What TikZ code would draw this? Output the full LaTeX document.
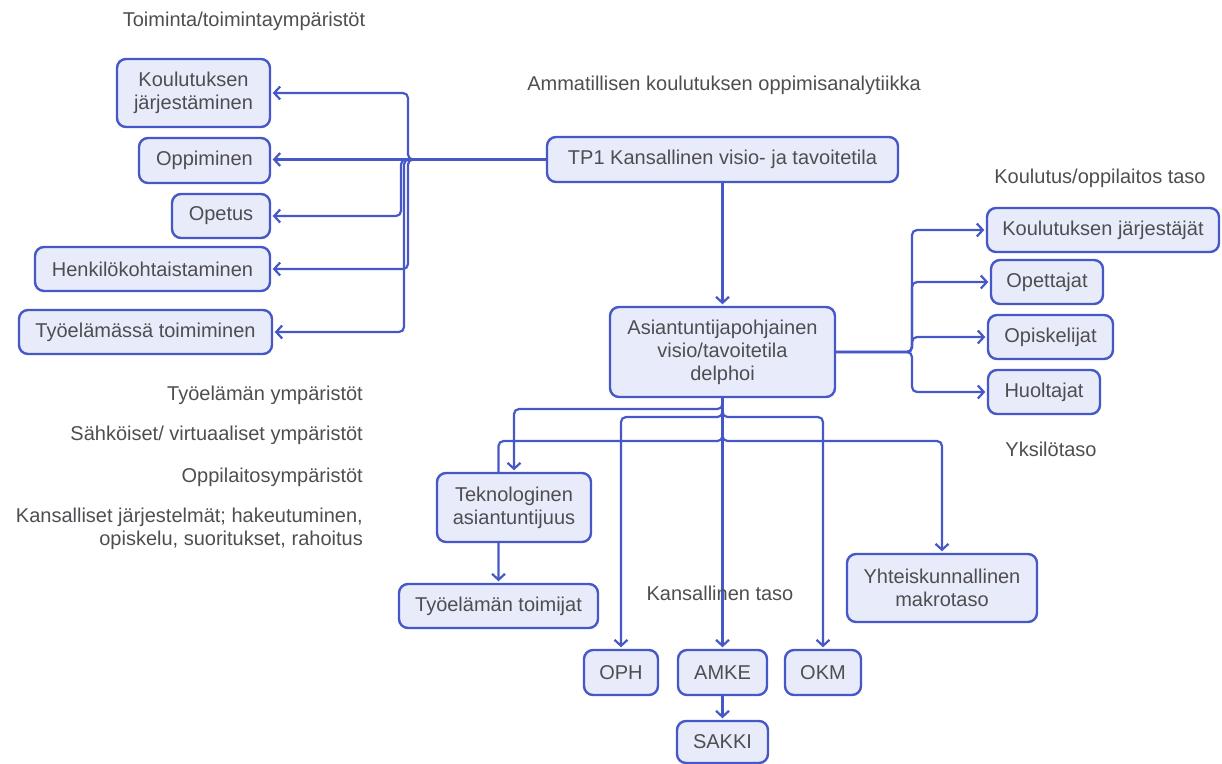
\documentclass[tikz,border=0pt]{standalone}
\usepackage{fontspec}
\setmainfont{Liberation Sans}
\usetikzlibrary{arrows.meta}
\pgfdeclarelayer{background}
\pgfsetlayers{background,main}
\definecolor{edgeblue}{RGB}{70,88,200}
\definecolor{boxfill}{RGB}{232,235,249}
\definecolor{txtgray}{RGB}{78,78,82}
\tikzset{
  lbl/.style={text=txtgray, font=\fontsize{20}{23}\selectfont, inner sep=0pt},
  box/.style={draw=edgeblue, fill=boxfill, line width=2.4pt, rounded corners=9pt,
    text=txtgray, font=\fontsize{20}{23}\selectfont, align=center, inner sep=0pt},
  conn/.style={draw=edgeblue, line width=2.2pt, rounded corners=5pt,
    -{Straight Barb[length=6pt,width=13pt]}, shorten >=1.5pt},
  plain/.style={draw=edgeblue, line width=2.2pt, rounded corners=5pt}
}
\begin{document}
\begin{tikzpicture}[x=1pt,y=-1pt]
\useasboundingbox (0,0) rectangle (1222,763);

% headings and side labels
\node[lbl] (hAct) at (244,21) {Toiminta/toimintaympäristöt};
\node[lbl] (hMain) at (724,85) {Ammatillisen koulutuksen oppimisanalytiikka};
\node[lbl] (hInst) at (1100,178) {Koulutus/oppilaitos taso};
\node[lbl] (hInd) at (1051,449) {Yksilötaso};
\node[lbl] (hNat) at (720,593) {Kansallinen taso};
\node[lbl, anchor=east] (eWork) at (363,395) {Työelämän ympäristöt};
\node[lbl, anchor=east] (eVirt) at (363,435) {Sähköiset/ virtuaaliset ympäristöt};
\node[lbl, anchor=east] (eSchool) at (363,477) {Oppilaitosympäristöt};
\node[lbl, anchor=east, align=right] (eNat) at (363,528.5)
  {Kansalliset järjestelmät; hakeutuminen,\\opiskelu, suoritukset, rahoitus};

% activity boxes (left)
\node[box, minimum width=153pt, minimum height=68pt] (kj) at (193.5,93) {Koulutuksen\\järjestäminen};
\node[box, minimum width=131pt, minimum height=45pt] (opp) at (204.5,160.5) {Oppiminen};
\node[box, minimum width=98pt, minimum height=44pt] (opetus) at (221,216) {Opetus};
\node[box, minimum width=235pt, minimum height=44pt] (henk) at (152.5,269) {Henkilökohtaistaminen};
\node[box, minimum width=253pt, minimum height=44pt] (tyo) at (145.5,332) {Työelämässä toimiminen};

% central boxes
\node[box, minimum width=351pt, minimum height=45pt] (tp1) at (722.5,159.5) {TP1 Kansallinen visio- ja tavoitetila};
\node[box, minimum width=225pt, minimum height=90pt] (delphoi) at (722.5,352) {Asiantuntijapohjainen\\visio/tavoitetila\\delphoi};

% institution / individual level (right)
\node[box, minimum width=232pt, minimum height=44pt] (kjat) at (1103,230) {Koulutuksen järjestäjät};
\node[box, minimum width=112pt, minimum height=44pt] (opettajat) at (1047,282) {Opettajat};
\node[box, minimum width=125pt, minimum height=44pt] (opisk) at (1050.5,337) {Opiskelijat};
\node[box, minimum width=112pt, minimum height=44pt] (huolt) at (1044,392) {Huoltajat};

% lower boxes
\node[box, minimum width=154pt, minimum height=69pt] (tek) at (514,507.5) {Teknologinen\\asiantuntijuus};
\node[box, minimum width=199pt, minimum height=44pt] (toimijat) at (498.5,606) {Työelämän toimijat};
\node[box, minimum width=190pt, minimum height=68pt] (yht) at (942,588) {Yhteiskunnallinen\\makrotaso};
\node[box, minimum width=74pt, minimum height=45pt] (oph) at (621,672.5) {OPH};
\node[box, minimum width=89pt, minimum height=45pt] (amke) at (722.5,672.5) {AMKE};
\node[box, minimum width=76pt, minimum height=45pt] (okm) at (823,672.5) {OKM};
\node[box, minimum width=91pt, minimum height=42pt] (sakki) at (722.5,742) {SAKKI};

\begin{pgfonlayer}{background}
  % TP1 to the activity boxes
  \draw[conn] (tp1.west) -| (408,93) -- (kj.east);
  \draw[conn] (tp1.west) -- (tp1.west -| opp.east);
  \draw[conn] (tp1.west) -| (401,216) -- (opetus.east);
  \draw[conn] (tp1.west) -| (408,269) -- (henk.east);
  \draw[conn] (tp1.west) -| (404,332) -- (tyo.east);
  \draw[conn] (tp1.south) -- (delphoi.north);

  % delphoi to the institution and individual level
  \draw[conn] (delphoi.east) -| (912,230) -- (kjat.west);
  \draw[conn] (delphoi.east) -| (912,282) -- (opettajat.west);
  \draw[conn] (delphoi.east) -| (912,337) -- (opisk.west);
  \draw[conn] (delphoi.east) -| (912,392) -- (huolt.west);

  % delphoi downwards
  \draw[conn] (delphoi.south) |- (514,409) -- (tek.north);
  \draw[conn] (delphoi.south) |- (498.5,441) -- (toimijat.north);
  \draw[conn] (delphoi.south) |- (621,417) -- (oph.north);
  \draw[conn] (delphoi.south) |- (823,417) -- (okm.north);
  \draw[conn] (delphoi.south) |- (942,441) -- (yht.north);
  \draw[conn] (delphoi.south) -- (amke.north);
  \draw[conn] (amke.south) -- (sakki.north);
\end{pgfonlayer}
\end{tikzpicture}
\end{document}
